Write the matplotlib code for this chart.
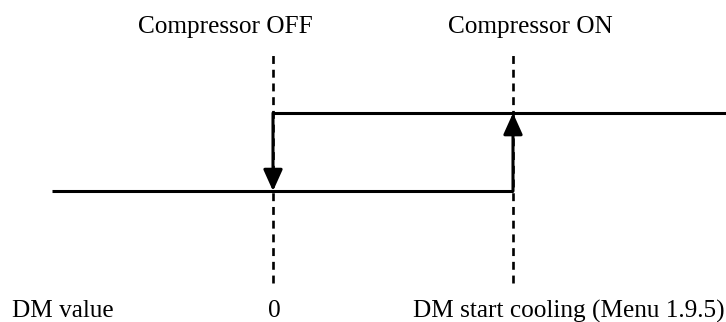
import matplotlib.pyplot as plt

# Punkte auf der DM-Achse (0 = Kompressor AUS, 1 = Kompressor EIN)
dm_left = -0.92
dm_off = 0.0
dm_on = 1.0
dm_right = 1.89

# Zustand: 0 = unten, 1 = oben
state_low = 0
state_high = 1

top_labels = ["Compressor OFF", "Compressor ON"]
bottom_labels = ["DM value", "0", "DM start cooling (Menu 1.9.5)"]

plt.rcParams["font.family"] = ["Liberation Serif", "DejaVu Serif"]

fig = plt.figure(figsize=(7.26, 3.22), dpi=100)
ax = fig.add_axes([0, 0, 1, 1])
ax.set_xlim(-1.1375, 1.8875)
ax.set_ylim(-1.679, 2.449)
ax.axis("off")

lw = 2.2
# untere und obere Linie
ax.plot([dm_left, dm_on], [state_low, state_low], color="black", lw=lw, solid_capstyle="butt")
ax.plot([dm_off, dm_right], [state_high, state_high], color="black", lw=lw, solid_capstyle="butt")

# gestrichelte Markierungen
for x in [dm_off, dm_on]:
    ax.plot([x, x], [-1.179, 1.808], color="black", lw=1.9, linestyle=(0, (3.0, 2.2)))

# Pfeile
arrow = dict(arrowstyle="-|>,head_length=1.0,head_width=0.45", mutation_scale=13,
             lw=lw, color="black", shrinkA=0, shrinkB=0)
ax.annotate("", xy=(dm_off, state_low), xytext=(dm_off, state_high), arrowprops=arrow)
ax.annotate("", xy=(dm_on, state_high), xytext=(dm_on, state_low), arrowprops=arrow)

fs = 18.2
ax.text(-0.2, 2.103, top_labels[0], ha="center", va="center", fontsize=fs)
ax.text(1.071, 2.103, top_labels[1], ha="center", va="center", fontsize=fs)
ax.text(-1.0875, -1.538, bottom_labels[0], ha="left", va="center", fontsize=fs)
ax.text(dm_off + 0.004, -1.538, bottom_labels[1], ha="center", va="center", fontsize=fs)
ax.text(0.583, -1.538, bottom_labels[2], ha="left", va="center", fontsize=fs)

fig.savefig("out.png", dpi=100)
